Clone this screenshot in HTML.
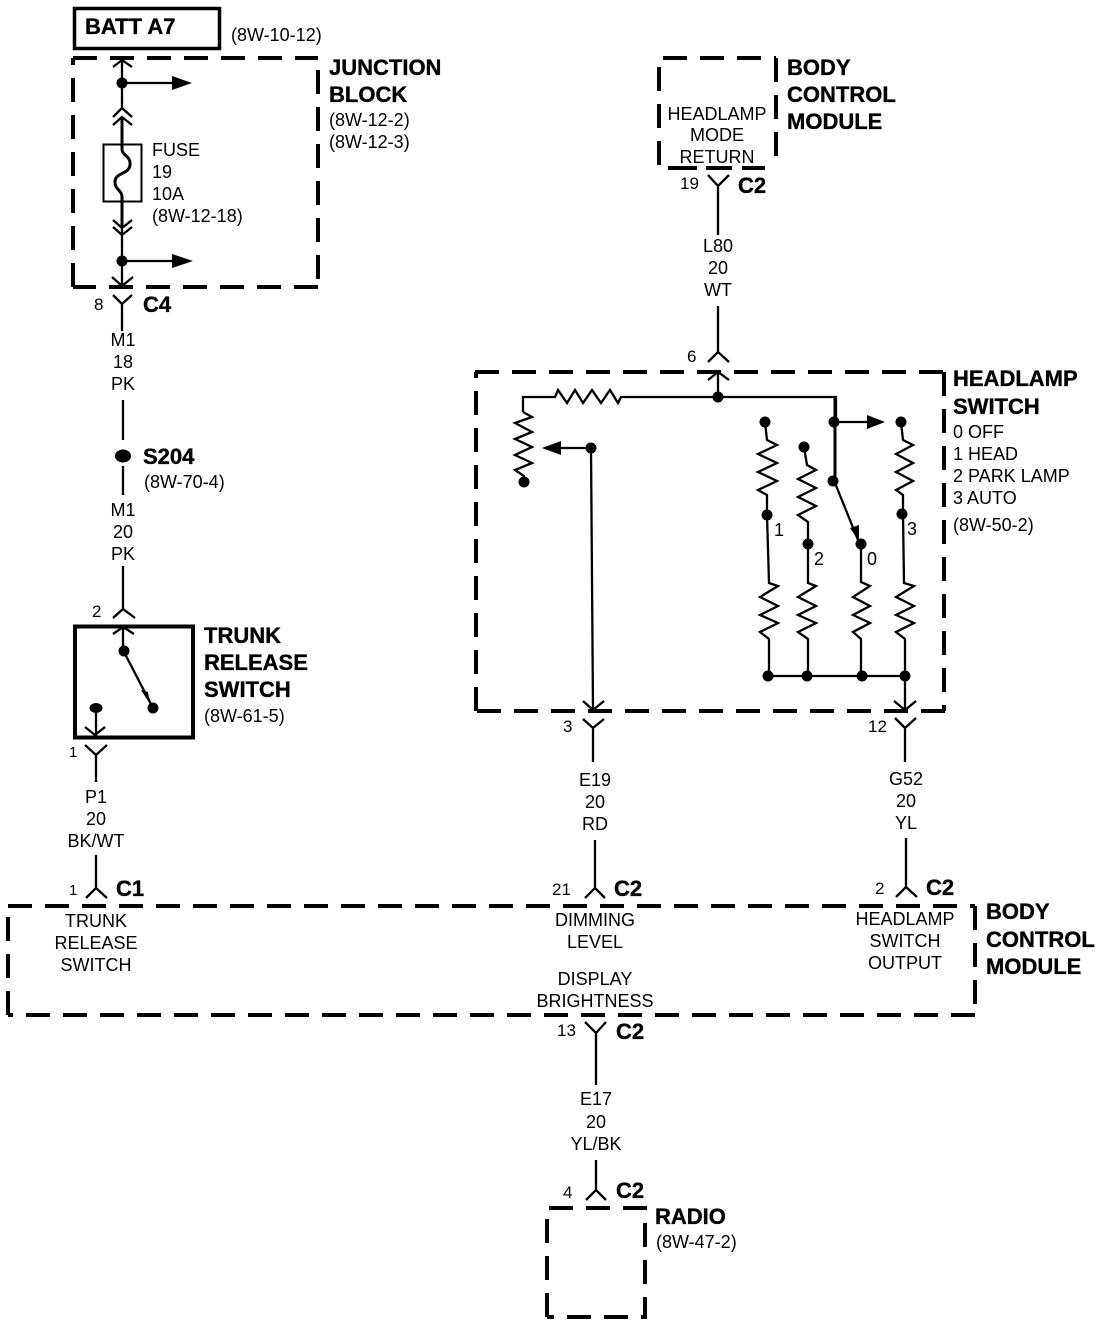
<!DOCTYPE html>
<html><head><meta charset="utf-8"><style>
html,body{margin:0;padding:0;background:#fff}
svg{display:block}
text{font-family:"Liberation Sans",Arial,sans-serif;font-size:18px;fill:#000}
.b{font-weight:bold;font-size:22px;stroke:#000;stroke-width:.35}
.n{font-size:17px}
.m{text-anchor:middle}
.w{fill:none;stroke:#000;stroke-width:2.3}
.t{fill:none;stroke:#000;stroke-width:3}
.d{fill:none;stroke:#000;stroke-width:4;stroke-dasharray:24 13}
circle,ellipse,.a{fill:#000;stroke:none}
</style></head><body>
<svg width="1120" height="1326" viewBox="0 0 1120 1326" xmlns="http://www.w3.org/2000/svg">
<!-- BATT -->
<rect x="74.5" y="8.5" width="145" height="40" fill="none" stroke="#000" stroke-width="3.5"/>
<text class="b" x="85" y="34">BATT A7</text>
<text x="231" y="41">(8W-10-12)</text>
<!-- Junction block -->
<path class="d" d="M73 58H318M318 70V287M318 287H73M73 287V58" />
<text class="b" x="329" y="75">JUNCTION</text>
<text class="b" x="329" y="102">BLOCK</text>
<text x="329" y="126">(8W-12-2)</text>
<text x="329" y="148">(8W-12-3)</text>
<text x="152" y="156">FUSE</text><text x="152" y="178">19</text><text x="152" y="200">10A</text><text x="152" y="222">(8W-12-18)</text>
<path class="w" d="M113 67L122 60L132 67M122 60V108M122 83H173M113 117L122 108L132 117M113 125L122 117L132 125"/>
<circle cx="122" cy="83" r="5.5"/><path class="a" d="M172 76L192 83L172 90Z"/>
<rect x="103.500" y="144.500" width="38" height="57" fill="none" stroke="#000" stroke-width="2"/>
<path class="t" d="M122 117V150C123 156 131 156 130 165C129 175 115 172 115 182C115 190 122 190 122 197V227"/>
<path class="w" d="M113 220L122 228L132 220M113 227L122 235L132 227M122 228V286M122 261H173M112 277L122 286L133 277"/>
<circle cx="122" cy="261" r="5.500"/><path class="a" d="M172 254L193 261L172 268Z"/>
<path class="w" d="M113 295L122 304L132 295M122 304V331"/>
<text class="n" x="94" y="310">8</text><text class="b" x="143" y="312">C4</text>
<text class="m" x="123" y="346">M1</text><text class="m" x="123" y="368">18</text><text class="m" x="123" y="390">PK</text>
<path class="w" d="M123 400V440M123 466V495"/>
<ellipse cx="123" cy="456" rx="8" ry="6.500"/>
<text class="b" x="143" y="464">S204</text><text x="144" y="488">(8W-70-4)</text>
<text class="m" x="123" y="516">M1</text><text class="m" x="123" y="538">20</text><text class="m" x="123" y="560">PK</text>
<!-- Trunk switch -->
<path class="w" d="M123 566V609M113 618L123 609L135 618"/>
<text class="n" x="92" y="617">2</text>
<rect x="75" y="626.500" width="118" height="111" fill="none" stroke="#000" stroke-width="4"/>
<path class="w" d="M113 634L123 627L134 634M123 627V652M124 652L153 708M96 708V736M85 727L95 735L105 727M85 745L96 755L107 745M96 755V782"/>
<circle cx="124" cy="651" r="5.500"/><circle cx="153" cy="708" r="5.500"/><ellipse cx="96" cy="708" rx="6.500" ry="5"/>
<path class="a" d="M141 690L148 692L150 704Z"/>
<text x="69" y="757" style="font-size:15px">1</text>
<text class="b" x="204" y="643">TRUNK</text><text class="b" x="204" y="670">RELEASE</text><text class="b" x="204" y="697">SWITCH</text>
<text x="204" y="722">(8W-61-5)</text>
<text class="m" x="96" y="803">P1</text><text class="m" x="96" y="825">20</text><text class="m" x="96" y="847">BK/WT</text>
<path class="w" d="M96 855V888M86 898L96 888L107 898"/>
<text x="69" y="895" style="font-size:15px">1</text><text class="b" x="116" y="896">C1</text>
<!-- BCM top -->
<path class="d" d="M659 165V58H776"/>
<path class="d" d="M776 58V160"/>
<path d="M668 168H697M706 168H732M742 168H765" fill="none" stroke="#000" stroke-width="4"/>
<text class="m" x="717" y="120">HEADLAMP</text><text class="m" x="717" y="141">MODE</text><text class="m" x="717" y="163">RETURN</text>
<text class="b" x="787" y="75">BODY</text><text class="b" x="787" y="102">CONTROL</text><text class="b" x="787" y="129">MODULE</text>
<path class="w" d="M708 175L718 186L729 175M718 186V235"/>
<text class="n" x="680" y="189">19</text><text class="b" x="738" y="193">C2</text>
<text class="m" x="718" y="252">L80</text><text class="m" x="718" y="274">20</text><text class="m" x="718" y="296">WT</text>
<path class="w" d="M718 306V352M708 362L718 352L729 362"/>
<text class="n" x="687" y="362">6</text>
<!-- Headlamp switch -->
<path class="d" d="M475 372H943M944 372V711M945 711H477M476 711V372"/>
<text class="b" x="953" y="386">HEADLAMP</text><text class="b" x="953" y="414">SWITCH</text>
<text x="953" y="438">0 OFF</text><text x="953" y="460">1 HEAD</text><text x="953" y="482">2 PARK LAMP</text><text x="953" y="504">3 AUTO</text><text x="953" y="531">(8W-50-2)</text>
<path class="w" d="M708 380L718 372L729 380M718 372V397"/>
<circle cx="718" cy="397" r="5.500"/>
<path class="w" d="M523 412V397H555L558 390L567 403L575 390L583 403L592 390L601 403L610 390L618 403L621 397H836V422"/>
<path class="w" d="M523 412L532 417L515 423L532 432L515 439L532 447L515 455L532 463L515 470L524 476V482"/>
<circle cx="524" cy="482" r="5.500"/>
<circle cx="591" cy="448" r="5.500"/>
<path class="w" d="M591 448H560M591 448L593 710M583 701L593 710L604 701M583 719L593 728L604 719M593 728V762"/>
<path class="a" d="M561 441L542 448L561 455Z"/>
<text class="n" x="563" y="732">3</text>
<!-- switch arm -->
<path class="t" d="M835 397V481"/>
<circle cx="834" cy="422" r="5.500"/><circle cx="833" cy="481" r="5.500"/>
<path class="w" d="M834 422H868M835 483L858 540"/>
<path class="a" d="M867 415L885 422L867 429Z"/><path class="a" d="M850 528L859 525L859 541Z"/>
<circle cx="861" cy="544" r="5.500"/>
<!-- col 1 -->
<circle cx="765" cy="422" r="5.500"/><circle cx="767" cy="515" r="5.500"/><circle cx="768" cy="676" r="5.500"/>
<path class="w" d="M765 422L767 440L777 445L758 454L777 463L758 472L777 481L758 490L767 495V515L769 583L778 586L760 597L778 606L760 615L778 623L760 632L769 639V676"/>
<text x="774" y="536">1</text>
<!-- col 2 -->
<circle cx="804" cy="447" r="5.500"/><circle cx="808" cy="544" r="5.500"/><circle cx="807" cy="676" r="5.500"/>
<path class="w" d="M804 447L807 465L816 470L798 479L816 488L798 497L816 506L798 515L808 522V583L816 586L798 597L816 606L798 615L816 623L798 632L808 639V676"/>
<text x="814" y="565">2</text>
<!-- col 0 -->
<circle cx="862" cy="676" r="5.500"/>
<path class="w" d="M861 544V582L870 586L853 597L870 606L853 615L870 623L853 632L861 639V676"/>
<text x="867" y="565">0</text>
<!-- col 3 -->
<circle cx="901" cy="422" r="5.500"/><circle cx="902" cy="514" r="5.500"/><circle cx="905" cy="676" r="5.500"/>
<path class="w" d="M901 422L903 440L913 445L896 454L913 463L896 472L913 481L896 490L903 495V514L904 583L914 586L896 597L914 606L896 615L914 623L896 632L905 639V710"/>
<text x="907" y="535">3</text>
<path class="w" d="M768 676H905"/>
<path class="w" d="M894 701L905 710L916 701M895 718L905 728L916 718M905 728V762"/>
<text class="n" x="868" y="732">12</text>
<text class="m" x="595" y="786">E19</text><text class="m" x="595" y="808">20</text><text class="m" x="595" y="830">RD</text>
<text class="m" x="906" y="785">G52</text><text class="m" x="906" y="807">20</text><text class="m" x="906" y="829">YL</text>
<path class="w" d="M595 840V888M585 898L595 888L605 898M906 838V887M896 897L906 887L917 897"/>
<text class="n" x="552" y="895">21</text><text class="b" x="614" y="896">C2</text>
<text class="n" x="875" y="894">2</text><text class="b" x="926" y="895">C2</text>
<!-- BCM bottom -->
<path class="d" d="M8 906H975M975 906V1015M975 1015H8M8 1015V906"/>
<text class="m" x="96" y="927">TRUNK</text><text class="m" x="96" y="949">RELEASE</text><text class="m" x="96" y="971">SWITCH</text>
<text class="m" x="595" y="926">DIMMING</text><text class="m" x="595" y="948">LEVEL</text>
<text class="m" x="905" y="925">HEADLAMP</text><text class="m" x="905" y="947">SWITCH</text><text class="m" x="905" y="969">OUTPUT</text>
<text class="m" x="595" y="985">DISPLAY</text><text class="m" x="595" y="1007">BRIGHTNESS</text>
<text class="b" x="986" y="919">BODY</text><text class="b" x="986" y="947">CONTROL</text><text class="b" x="986" y="974">MODULE</text>
<path class="w" d="M585 1022L596 1033L606 1022M596 1033V1085"/>
<text class="n" x="557" y="1036">13</text><text class="b" x="616" y="1039">C2</text>
<text class="m" x="596" y="1105">E17</text><text class="m" x="596" y="1128">20</text><text class="m" x="596" y="1150">YL/BK</text>
<path class="w" d="M596 1160V1190M586 1200L596 1190L606 1200"/>
<text class="n" x="563" y="1198">4</text><text class="b" x="616" y="1198">C2</text>
<!-- Radio -->
<path class="d" d="M547 1317V1208H645V1317H547"/>
<text class="b" x="655" y="1224">RADIO</text><text x="656" y="1248">(8W-47-2)</text>
</svg>
</body></html>
